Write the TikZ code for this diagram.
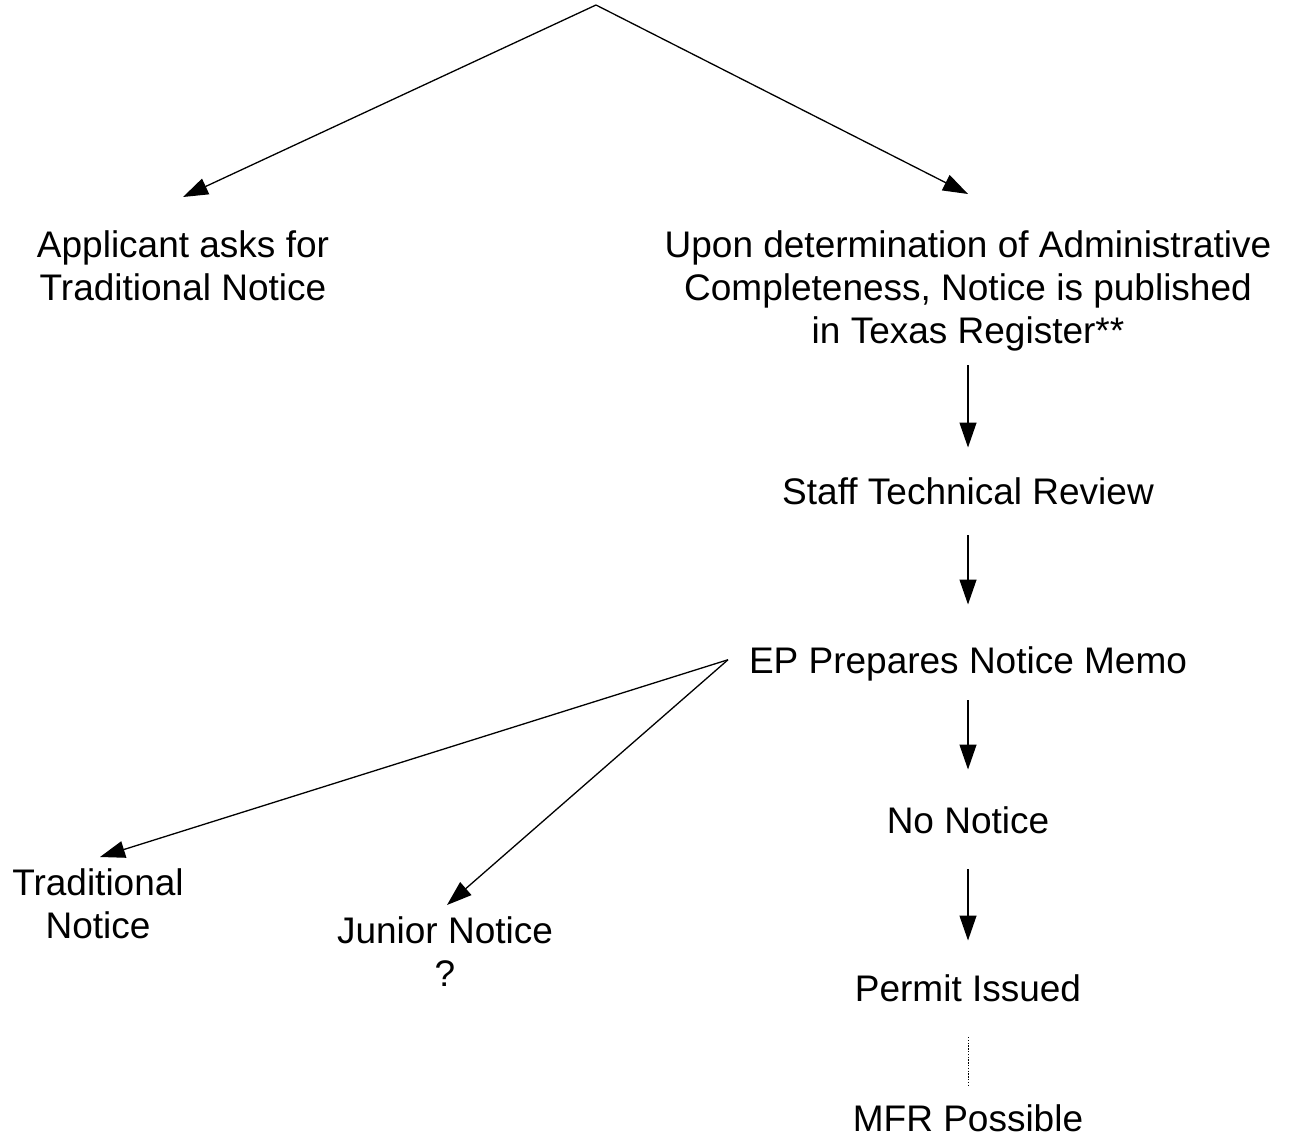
\documentclass[tikz,border=0pt]{standalone}
\usepackage{fontspec}
\setmainfont{Liberation Sans}
\usetikzlibrary{arrows.meta}
\newcommand{\tstrut}{\rule{0pt}{27.5pt}}
\newcommand{\bstrut}{\rule[-8pt]{0pt}{8pt}}
\tikzset{
  lbl/.style={inner sep=0pt, outer sep=0pt, font=\fontsize{37pt}{43pt}\selectfont},
  one/.style={lbl, text height=27.5pt, text depth=8pt, anchor=base},
  multi/.style={lbl, align=center, anchor=north},
  conn/.style={line width=1.3pt, -{Triangle[length=25pt,width=17pt]}},
  dotline/.style={line width=1pt, dash pattern=on 1.4pt off 1.4pt}
}
\begin{document}
\begin{tikzpicture}[x=1pt,y=-1pt]
\useasboundingbox (0,0) rectangle (1290,1137);
\coordinate (top) at (596,5);
\node[multi] (app) at (183,229.5) {\tstrut Applicant asks for\\Traditional Notice\bstrut};
\node[multi] (pub) at (968,229.5) {\tstrut Upon determination of Administrative\\Completeness, Notice is published\\in Texas Register**\bstrut};
\node[one] (staff) at (968,504) {Staff Technical Review};
\node[one] (memo) at (968,673) {EP Prepares Notice Memo};
\node[one] (nonot) at (968,833) {No Notice};
\node[one] (permit) at (968,1001) {Permit Issued};
\node[one] (mfr) at (968,1131) {MFR Possible};
\node[multi] (trad) at (98,867.5) {\tstrut Traditional\\Notice\bstrut};
\node[multi] (junior) at (445,915.5) {\tstrut Junior Notice\\?\bstrut};
\coordinate (src) at ([xshift=-21pt,yshift=3.5pt]memo.west);

\draw[conn] (top) -- ([yshift=32.5pt]app.north);
\draw[conn] (top) -- ([yshift=35.5pt]pub.north);
\draw[conn, shorten <=14pt, shorten >=29pt] (pub.south) -- (staff.north);
\draw[conn, shorten <=23pt, shorten >=41pt] (staff.south) -- (memo.north);
\draw[conn, shorten <=19pt, shorten >=36pt] (memo.south) -- (nonot.north);
\draw[conn, shorten <=28pt, shorten >=33pt] (nonot.south) -- (permit.north);
\draw[dotline, shorten <=28pt, shorten >=17pt] (permit.south) -- (mfr.north);
\draw[conn] (src) -- ([xshift=2pt,yshift=10.5pt]trad.north);
\draw[conn] (src) -- ([xshift=2pt,yshift=10.5pt]junior.north);
\end{tikzpicture}
\end{document}
